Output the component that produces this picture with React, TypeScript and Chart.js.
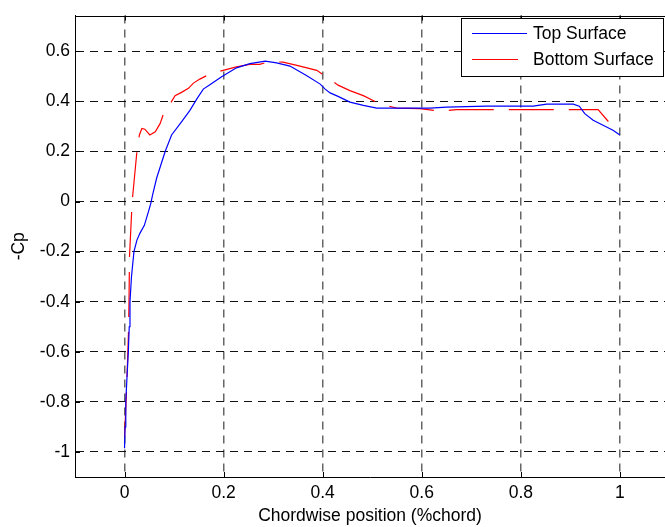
import React, { useEffect, useRef } from "react";
import { Chart, registerables } from "chart.js";

Chart.register(...registerables);

// ---- data ----
const seriesNames = ["Top Surface", "Bottom Surface"];

const topX = [0.0, 0.001, 0.0025, 0.005, 0.0077, 0.0095, 0.011, 0.014, 0.019, 0.025, 0.031, 0.04, 0.048, 0.053, 0.057, 0.065, 0.082, 0.095, 0.115, 0.132, 0.146, 0.159, 0.173, 0.196, 0.226, 0.253, 0.284, 0.307, 0.334, 0.368, 0.395, 0.405, 0.415, 0.431, 0.455, 0.482, 0.509, 0.549, 0.617, 0.65, 0.731, 0.825, 0.852, 0.906, 0.918, 0.929, 0.946, 0.966, 0.986, 1.0];
const topY = [-0.985, -0.9, -0.8, -0.7, -0.6, -0.5, -0.4, -0.3, -0.2, -0.154, -0.127, -0.095, -0.042, -0.007, 0.03, 0.095, 0.2, 0.266, 0.318, 0.364, 0.41, 0.449, 0.467, 0.498, 0.534, 0.551, 0.561, 0.554, 0.541, 0.502, 0.469, 0.449, 0.434, 0.42, 0.397, 0.384, 0.373, 0.373, 0.373, 0.377, 0.381, 0.381, 0.389, 0.389, 0.381, 0.351, 0.325, 0.305, 0.285, 0.266];

const bottomX = [0.0, 0.002, 0.004, 0.006, 0.008, 0.009, 0.01, 0.0145, 0.0165, 0.025, 0.03, 0.035, 0.041, 0.051, 0.062, 0.072, 0.078, 0.095, 0.102, 0.115, 0.129, 0.139, 0.152, 0.169, 0.199, 0.226, 0.253, 0.273, 0.29, 0.32, 0.348, 0.388, 0.407, 0.431, 0.455, 0.482, 0.516, 0.549, 0.596, 0.637, 0.67, 0.956, 0.99];
const bottomY = [-0.94, -0.85, -0.756, -0.64, -0.52, -0.4, -0.22, -0.036, 0.023, 0.2, 0.266, 0.292, 0.289, 0.266, 0.279, 0.312, 0.347, 0.4, 0.423, 0.436, 0.452, 0.473, 0.489, 0.506, 0.524, 0.538, 0.548, 0.548, 0.558, 0.557, 0.544, 0.524, 0.499, 0.465, 0.443, 0.423, 0.39, 0.373, 0.371, 0.361, 0.367, 0.367, 0.289];

const xTicks = [0, 0.2, 0.4, 0.6, 0.8, 1];
const yTicks = [-1, -0.8, -0.6, -0.4, -0.2, 0, 0.2, 0.4, 0.6];

const xTitle = "Chordwise position (%chord)";
const yTitle = "-Cp";

// ---- styling ----
const FONT = 'Arial, "Liberation Sans", Helvetica, sans-serif';
const FONT_SIZE = 17.5;

const framePlugin = {
  id: "frame",
  afterDraw(chart: any) {
    const { ctx, chartArea } = chart;
    const { left, right, top, bottom } = chartArea;
    ctx.save();
    ctx.setLineDash([]);
    ctx.strokeStyle = "#000";
    ctx.lineWidth = 1;
    // top border
    const ty = Math.round(top) + 0.5;
    ctx.beginPath();
    ctx.moveTo(left, ty);
    ctx.lineTo(right, ty);
    ctx.stroke();
    // inward tick marks
    const xs = chart.scales.x;
    const ys = chart.scales.y;
    const tl = 5;
    ctx.beginPath();
    xTicks.forEach((v) => {
      const px = Math.round(xs.getPixelForValue(v)) + 0.5;
      ctx.moveTo(px, bottom);
      ctx.lineTo(px, bottom - tl);
      ctx.moveTo(px, top);
      ctx.lineTo(px, top + tl);
    });
    yTicks.forEach((v) => {
      const py = Math.round(ys.getPixelForValue(v)) + 0.5;
      ctx.moveTo(left, py);
      ctx.lineTo(left + tl, py);
    });
    ctx.stroke();

    // legend box
    const bx = 461.5, by = 18.5, bw = 202, bh = 58;
    ctx.fillStyle = "#fff";
    ctx.fillRect(bx, by, bw, bh);
    ctx.strokeStyle = "#000";
    ctx.strokeRect(bx, by, bw, bh);
    const items = [
      { y: 33.5, x2: 527, color: "#0000ff", label: chart.data.datasets[0].label },
      { y: 59.5, x2: 518, color: "#ff0000", label: chart.data.datasets[1].label },
    ];
    ctx.font = `${FONT_SIZE}px ${FONT}`;
    ctx.textBaseline = "middle";
    ctx.textAlign = "left";
    items.forEach((it) => {
      ctx.strokeStyle = it.color;
      ctx.lineWidth = 1;
      ctx.beginPath();
      ctx.moveTo(472, it.y);
      ctx.lineTo(it.x2, it.y);
      ctx.stroke();
      ctx.fillStyle = "#000";
      ctx.fillText(it.label, 533, it.y + 1);
    });
    ctx.restore();
  },
};

export default function App() {
  const canvasRef = useRef<HTMLCanvasElement | null>(null);

  useEffect(() => {
    const canvas = canvasRef.current;
    if (!canvas) return;
    const topData = topX.map((x, i) => ({ x, y: topY[i] }));
    const bottomData = bottomX.map((x, i) => ({ x, y: bottomY[i] }));
    const tickFont = { family: FONT, size: FONT_SIZE };

    const chart = new Chart(canvas, {
      type: "scatter",
      data: {
        datasets: [
          {
            label: seriesNames[0],
            data: topData,
            showLine: true,
            borderColor: "#0000ff",
            backgroundColor: "#0000ff",
            borderWidth: 1.2,
            pointRadius: 0,
            tension: 0,
            fill: false,
          },
          {
            label: seriesNames[1],
            data: bottomData,
            showLine: true,
            borderColor: "#ff0000",
            backgroundColor: "#ff0000",
            borderWidth: 1.2,
            borderDash: [45, 15],
            pointRadius: 0,
            tension: 0,
            fill: false,
          },
        ],
      },
      options: {
        responsive: false,
        animation: false,
        layout: { padding: { top: 8, right: 0, left: 0, bottom: 0 } },
        plugins: {
          legend: { display: false },
          tooltip: { enabled: false },
        },
        scales: {
          x: {
            type: "linear",
            min: -0.1,
            max: 1.091,
            afterBuildTicks: (s: any) => {
              s.ticks = xTicks.map((v) => ({ value: v }));
            },
            afterFit: (s: any) => {
              s.height = 50;
            },
            grid: { color: "#666", lineWidth: 1.5, drawTicks: false },
            border: { display: true, color: "#000", width: 1, dash: [8, 6] },
            ticks: {
              font: tickFont,
              color: "#000",
              padding: 6,
              maxRotation: 0,
              callback: (v: any) => String(v),
            },
            title: {
              display: true,
              text: xTitle,
              font: tickFont,
              color: "#000",
              padding: { top: 0, bottom: 0 },
            },
          },
          y: {
            type: "linear",
            min: -1.1,
            max: 0.743,
            afterBuildTicks: (s: any) => {
              s.ticks = yTicks.map((v) => ({ value: v }));
            },
            afterFit: (s: any) => {
              s.width = 75;
            },
            grid: { color: "#111", lineWidth: 1, drawTicks: false },
            border: { display: true, color: "#000", width: 1, dash: [8, 6] },
            ticks: {
              font: tickFont,
              color: "#000",
              padding: 5,
              callback: (v: any) => String(v),
            },
            title: {
              display: true,
              text: yTitle,
              font: tickFont,
              color: "#000",
              padding: { top: 9, bottom: 0 },
            },
          },
        },
      } as any,
      plugins: [framePlugin],
    });
    return () => chart.destroy();
  }, []);

  return (
    <div style={{ position: "fixed", left: 0, top: 0, width: 665, height: 527, background: "#fff" }}>
      <canvas ref={canvasRef} width={665} height={527} style={{ display: "block" }} />
    </div>
  );
}
